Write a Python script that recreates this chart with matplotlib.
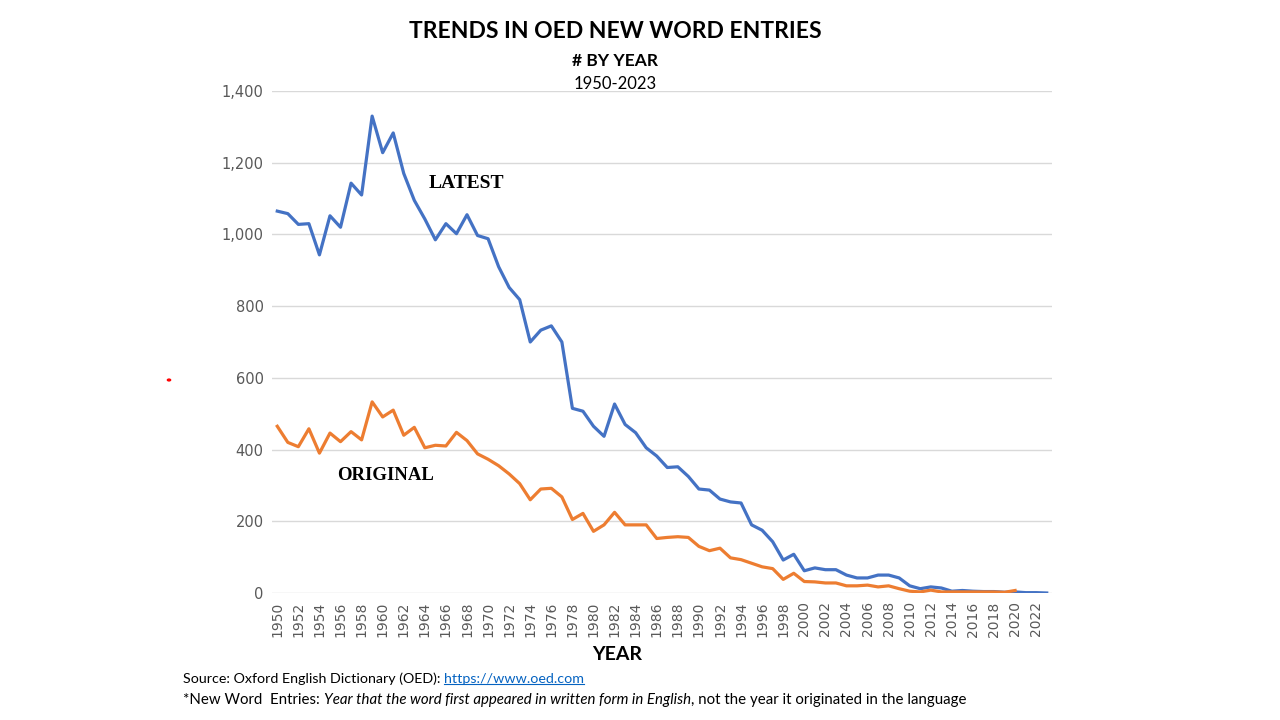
import numpy as np
import matplotlib
matplotlib.use("Agg")
import matplotlib.pyplot as plt

# OED new word entries per year
years_latest = list(range(1950, 2024))
latest = [1065, 1058, 1028, 1030, 943, 1052, 1020, 1143, 1110, 1330,
          1228, 1283, 1170, 1095, 1043, 985, 1030, 1002, 1055, 997,
          988, 910, 852, 818, 700, 733, 745, 700, 515, 507,
          465, 437, 527, 470, 447, 405, 382, 350, 352, 325,
          290, 287, 262, 254, 251, 190, 175, 143, 92, 108,
          62, 70, 65, 65, 50, 42, 42, 50, 50, 42,
          20, 12, 17, 14, 5, 7, 5, 4, 4, 2,
          3, 1, 1, 0]

years_original = list(range(1950, 2021))
original = [465, 420, 408, 458, 390, 446, 422, 450, 427, 533,
            491, 510, 440, 462, 405, 412, 410, 448, 425, 388,
            373, 355, 332, 305, 260, 290, 292, 268, 205, 222,
            172, 190, 225, 190, 190, 190, 152, 155, 157, 155,
            130, 118, 125, 98, 93, 83, 73, 68, 38, 55,
            32, 31, 28, 28, 20, 20, 22, 17, 20, 12,
            5, 3, 8, 3, 3, 3, 3, 3, 3, 2, 7]

xticks = list(range(1950, 2023, 2))
yticks = [0, 200, 400, 600, 800, 1000, 1200, 1400]

SANS = ["Lato", "DejaVu Sans"]
GREY = "#595959"

fig = plt.figure(figsize=(12.8, 7.2), dpi=100)
ax = fig.add_axes([272 / 1280, 127 / 720, 780 / 1280, 502 / 720])

ax.plot(years_latest, latest, color="#4472C4", lw=2.3, solid_joinstyle="round")
ax.plot(years_original, original, color="#ED7D31", lw=2.3, solid_joinstyle="round")

ax.set_xlim(1949.5, 2023.5)
ax.set_ylim(0, 1400)
ax.set_xticks(xticks)
ax.set_xticklabels([str(y) for y in xticks], rotation=90, fontsize=10,
                   color=GREY, family="DejaVu Sans")
ax.set_yticks(yticks)
ax.set_yticklabels([f"{v:,}" for v in yticks], fontsize=10.5, color=GREY,
                   family="DejaVu Sans")
ax.tick_params(length=0, pad=6)
ax.grid(axis="y", color="#D9D9D9", lw=1)
ax.set_axisbelow(True)
for s in ax.spines.values():
    s.set_visible(False)

# series labels
ax.text(1964.4, 1143, "LATEST", family="Liberation Serif", weight="bold",
        fontsize=14, ha="left", va="center")
ax.text(1955.7, 329, "ORIGINAL", family="Liberation Serif", weight="bold",
        fontsize=13.5, ha="left", va="center")

# titles
fig.text(615 / 1280, 1 - 32 / 720, "TRENDS IN OED NEW WORD ENTRIES", ha="center",
         va="center", fontsize=16.5, weight="bold", family=SANS)
fig.text(615 / 1280, 1 - 61 / 720, "# BY YEAR", ha="center", va="center",
         fontsize=12.5, weight="bold", family=SANS)
fig.text(615 / 1280, 1 - 84 / 720, "1950-2023", ha="center", va="center",
         fontsize=12, family=SANS)
fig.text(617 / 1280, 1 - 654 / 720, "YEAR", ha="center", va="center",
         fontsize=14, weight="bold", family=SANS)

# stray red dot seen in the source slide
fig.patches.append(plt.Circle((169 / 1280, 1 - 380 / 720), 1.6 / 1280,
                              transform=fig.transFigure, color="red"))


def run_text(x, y, parts, size):
    # place text pieces one after another on the same baseline
    fig.canvas.draw()
    r = fig.canvas.get_renderer()
    for s, kw in parts:
        t = fig.text(x, y, s, va="baseline", ha="left", fontsize=size,
                     family=SANS, **kw)
        bb = t.get_window_extent(r)
        x = (bb.x1) / fig.bbox.width


run_text(183 / 1280, 1 - 683 / 720, [
    ("Source: Oxford English Dictionary (OED): ", {}),
    ("https://www.oed.com", {"color": "#0563C1"}),
], 10.3)
fig.canvas.draw()
link = fig.texts[-1]
bb = link.get_window_extent(fig.canvas.get_renderer())
fig.add_artist(plt.Line2D([bb.x0 / 1280, bb.x1 / 1280],
                          [(bb.y0 + 1) / 720, (bb.y0 + 1) / 720],
                          transform=fig.transFigure, color="#0563C1", lw=0.8))

run_text(183 / 1280, 1 - 704 / 720, [
    ("*New Word  Entries: ", {}),
    ("Year that the word first appeared in written form in English", {"style": "italic"}),
    (", not the year it originated in the language", {}),
], 10.8)

fig.savefig("out.png", dpi=100)
